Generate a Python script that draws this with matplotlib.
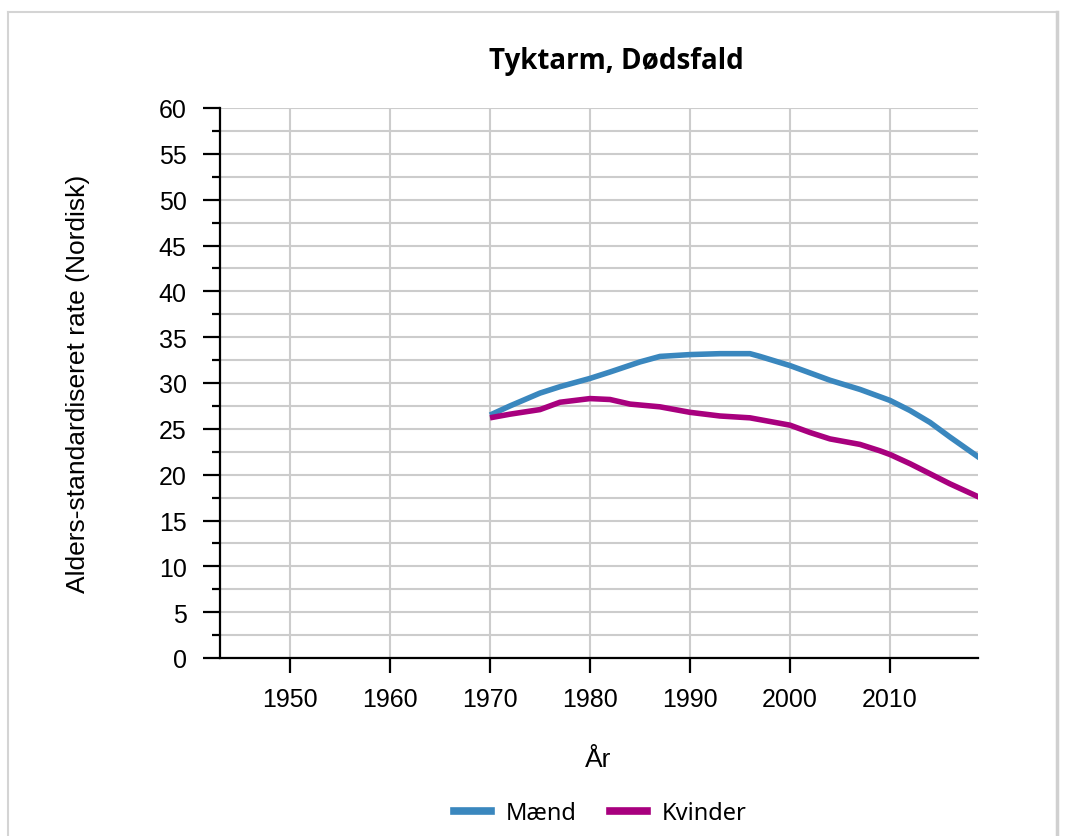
import matplotlib
matplotlib.use("Agg")
import matplotlib.pyplot as plt
from matplotlib.ticker import MultipleLocator
from matplotlib.lines import Line2D

# values
maend_years = [1970, 1972, 1975, 1977, 1980, 1982, 1985, 1987, 1990, 1993,
               1996, 1997, 2000, 2002, 2004, 2007, 2010, 2012, 2014, 2016, 2019]
maend_rate = [26.5, 27.5, 28.9, 29.6, 30.5, 31.2, 32.3, 32.9, 33.1, 33.2,
              33.2, 32.9, 31.9, 31.1, 30.3, 29.3, 28.1, 27.0, 25.7, 24.1, 21.8]

kvinder_years = [1970, 1972, 1975, 1977, 1980, 1982, 1984, 1987, 1990, 1993,
                 1996, 1998, 2000, 2002, 2004, 2007, 2009, 2010, 2012, 2014, 2016, 2019]
kvinder_rate = [26.2, 26.6, 27.1, 27.9, 28.3, 28.2, 27.7, 27.4, 26.8, 26.4,
                26.2, 25.8, 25.4, 24.6, 23.9, 23.3, 22.6, 22.2, 21.2, 20.1, 19.0, 17.5]

x_ticks = [1950, 1960, 1970, 1980, 1990, 2000, 2010]

blue = "#3a87be"
magenta = "#a8007e"

fig = plt.figure(figsize=(10.74, 8.37), dpi=100)
ax = fig.add_axes([220/1074, 1 - 659/837, (978-220)/1074, (659-109)/837])

ax.plot(maend_years, maend_rate, color=blue, lw=4, solid_capstyle="butt", zorder=3)
ax.plot(kvinder_years, kvinder_rate, color=magenta, lw=4, solid_capstyle="butt", zorder=3)

ax.set_xlim(1943, 2018.8)
ax.set_ylim(0, 60)
ax.set_xticks(x_ticks)
ax.yaxis.set_major_locator(MultipleLocator(5))
ax.yaxis.set_minor_locator(MultipleLocator(2.5))

ax.grid(True, which="both", axis="y", color="#cccccc", lw=1.5, zorder=0)
ax.grid(True, which="major", axis="x", color="#cccccc", lw=1.5, zorder=0)
ax.set_axisbelow(True)

for s in ["top", "right"]:
    ax.spines[s].set_visible(False)
for s in ["left", "bottom"]:
    ax.spines[s].set_linewidth(1.6)
    ax.spines[s].set_color("black")

ax.tick_params(axis="y", which="major", length=12, width=1.6, pad=12,
               labelsize=18, labelfontfamily="Liberation Sans")
ax.tick_params(axis="y", which="minor", length=6, width=1.6)
ax.tick_params(axis="x", length=11, width=1.6, pad=10,
               labelsize=18, labelfontfamily="Liberation Sans")

ax.set_ylabel("Alders-standardiseret rate (Nordisk)", fontsize=19,
              family="Liberation Sans")
ax.yaxis.set_label_coords(-130/758, 0.5)
fig.text(598/1074, 1 - 760/837, "År", fontsize=19, family="Liberation Sans",
         ha="center", va="center")

fig.text(616/1074, 1 - 61/837, "Tyktarm, Dødsfald", fontsize=20,
         family=["Open Sans", "DejaVu Sans"], weight="bold",
         ha="center", va="center")

handles = [Line2D([], [], color=blue, lw=5.5),
           Line2D([], [], color=magenta, lw=5.5)]
fig.legend(handles, ["Mænd", "Kvinder"], loc="center",
           bbox_to_anchor=(600/1074, 1 - 814/837), ncol=2, frameon=False,
           prop={"family": "Noto Sans", "size": 17}, handlelength=1.6,
           handletextpad=0.6, columnspacing=1.4)

# light frame around the chart
fig.add_artist(Line2D([8/1074, 1057/1074], [1 - 13/837, 1 - 13/837],
                      color="#d4d4d4", lw=1.5, transform=fig.transFigure))
fig.add_artist(Line2D([8/1074, 8/1074], [1 - 13/837, 0],
                      color="#d4d4d4", lw=1.5, transform=fig.transFigure))
fig.add_artist(Line2D([1057/1074, 1057/1074], [1 - 13/837, 0],
                      color="#d0d0d0", lw=2.5, transform=fig.transFigure))

fig.savefig("out.png", dpi=100)
